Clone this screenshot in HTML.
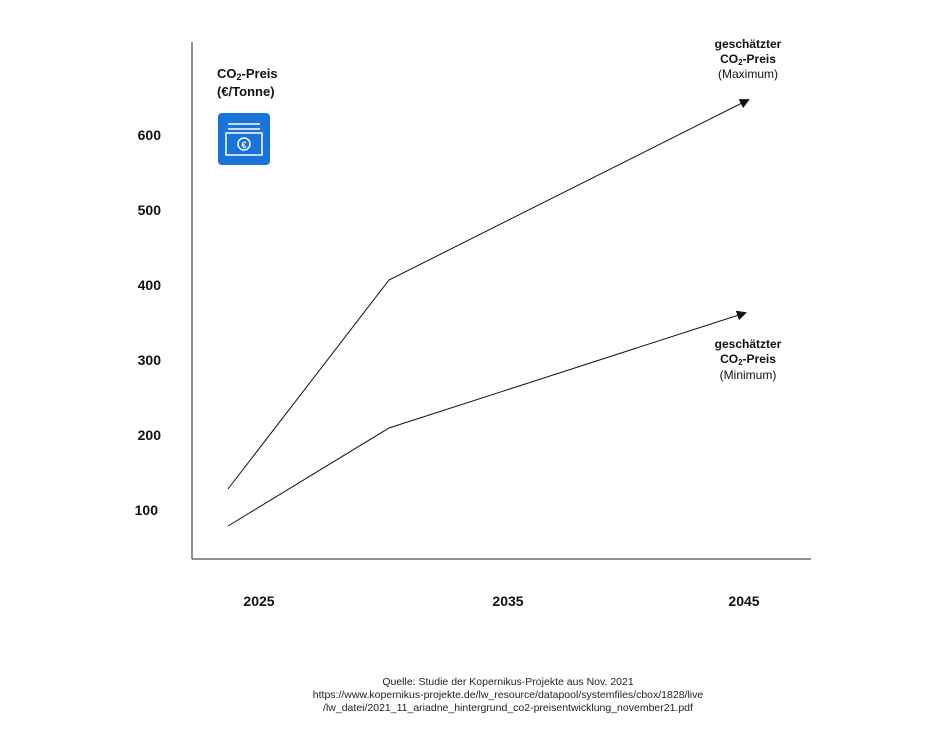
<!DOCTYPE html>
<html><head><meta charset="utf-8"><style>
body{margin:0;background:#fff}
svg text{font-family:"Liberation Sans",sans-serif}
</style></head><body>
<svg width="952" height="746" viewBox="0 0 952 746" xmlns="http://www.w3.org/2000/svg">
<defs><marker id="a" markerWidth="10" markerHeight="10" refX="8" refY="5" orient="auto" markerUnits="userSpaceOnUse"><path d="M0,0 L10,5 L0,10 z" fill="#111"/></marker></defs>
<line x1="192" y1="42" x2="192" y2="559" stroke="#222" stroke-width="1"/>
<line x1="192" y1="559" x2="811" y2="559" stroke="#222" stroke-width="1"/>
<g font-size="14" font-weight="bold" fill="#111" text-anchor="end">
<text x="161" y="140">600</text><text x="161" y="215">500</text><text x="161" y="290">400</text>
<text x="161" y="365">300</text><text x="161" y="440">200</text><text x="158" y="515">100</text>
</g>
<g font-size="14" font-weight="bold" fill="#111" text-anchor="middle">
<text x="259" y="606">2025</text><text x="508" y="606">2035</text><text x="744" y="606">2045</text>
</g>
<polyline points="228,489 389,280 748,100" fill="none" stroke="#111" stroke-width="1" marker-end="url(#a)"/>
<polyline points="228,526 389,428 745,313" fill="none" stroke="#111" stroke-width="1" marker-end="url(#a)"/>
<g font-size="13" font-weight="bold" fill="#111">
<text x="217" y="78">CO<tspan font-size="9" dy="2">2</tspan><tspan dy="-2">-Preis</tspan></text>
<text x="217" y="96">(€/Tonne)</text>
</g>
<rect x="218" y="113" width="52" height="52" rx="4" fill="#1a73d9"/>
<g stroke="#fff" stroke-width="1.5" fill="none">
<line x1="228" y1="124" x2="260" y2="124"/><line x1="228" y1="129" x2="260" y2="129"/>
<rect x="226" y="133" width="36" height="22"/>
<circle cx="244" cy="144" r="6"/>
</g>
<text x="244" y="148" font-size="9" fill="#fff" text-anchor="middle" font-weight="bold">€</text>
<g font-size="12" fill="#111" text-anchor="middle">
<text x="748" y="48" font-weight="bold">geschätzter</text>
<text x="748" y="63" font-weight="bold">CO<tspan font-size="8" dy="2">2</tspan><tspan dy="-2">-Preis</tspan></text>
<text x="748" y="78">(Maximum)</text>
<text x="748" y="348" font-weight="bold">geschätzter</text>
<text x="748" y="363" font-weight="bold">CO<tspan font-size="8" dy="2">2</tspan><tspan dy="-2">-Preis</tspan></text>
<text x="748" y="379">(Minimum)</text>
</g>
<g font-size="10.5" fill="#222" text-anchor="middle">
<text x="508" y="685">Quelle: Studie der Kopernikus-Projekte aus Nov. 2021</text>
<text x="508" y="698">https://www.kopernikus-projekte.de/lw_resource/datapool/systemfiles/cbox/1828/live</text>
<text x="508" y="711">/lw_datei/2021_11_ariadne_hintergrund_co2-preisentwicklung_november21.pdf</text>
</g>
</svg>
</body></html>
